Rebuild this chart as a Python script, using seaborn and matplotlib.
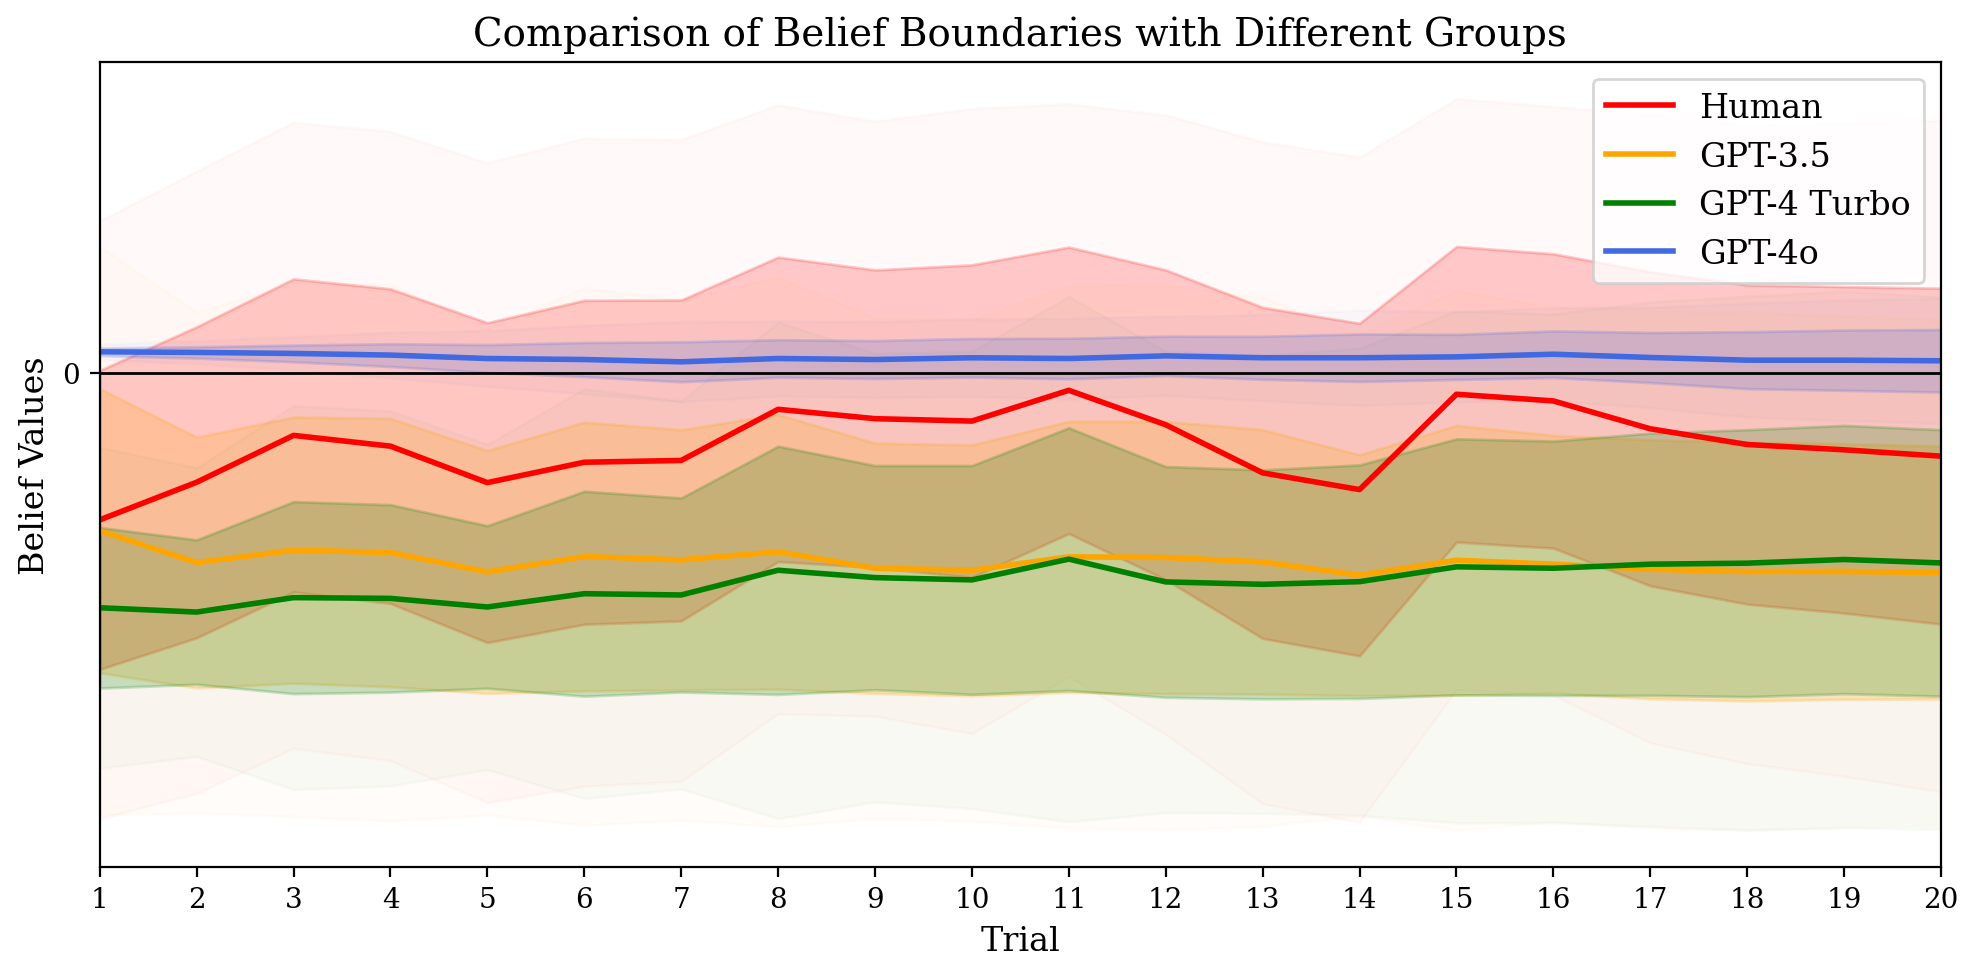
import numpy as np
import pandas as pd
import matplotlib
matplotlib.use("Agg")
import matplotlib.pyplot as plt
import seaborn as sns

trials = list(range(1, 21))
groups = ["Human", "GPT-3.5", "GPT-4 Turbo", "GPT-4o"]
colors = ["red", "orange", "green", "royalblue"]

human_mean = [-1.16, -0.863, -0.493, -0.578, -0.866, -0.705, -0.691, -0.287, -0.361, -0.38,
              -0.137, -0.409, -0.789, -0.921, -0.168, -0.221, -0.441, -0.565, -0.607, -0.657]
human_std = [1.18, 1.228, 1.236, 1.242, 1.263, 1.279, 1.267, 1.202, 1.175, 1.234,
             1.131, 1.223, 1.307, 1.313, 1.167, 1.162, 1.24, 1.26, 1.289, 1.326]

gpt35_mean = [-1.246, -1.497, -1.399, -1.418, -1.571, -1.449, -1.476, -1.412, -1.542, -1.558,
              -1.452, -1.457, -1.492, -1.597, -1.479, -1.51, -1.55, -1.568, -1.568, -1.576]
gpt35_std = [1.122, 0.99, 1.051, 1.06, 0.959, 1.061, 1.028, 1.085, 0.988, 0.991,
             1.07, 1.075, 1.044, 0.951, 1.065, 1.017, 1.022, 1.022, 1.009, 0.998]

gpt4t_mean = [-1.854, -1.888, -1.774, -1.78, -1.848, -1.743, -1.753, -1.558, -1.616, -1.634,
              -1.47, -1.65, -1.669, -1.648, -1.531, -1.542, -1.51, -1.502, -1.473, -1.50]
gpt4t_std = [0.634, 0.57, 0.758, 0.74, 0.642, 0.809, 0.766, 0.98, 0.885, 0.903,
             1.037, 0.911, 0.904, 0.922, 1.011, 1.004, 1.035, 1.054, 1.059, 1.052]

gpt4o_mean = [0.167, 0.162, 0.154, 0.141, 0.114, 0.106, 0.088, 0.114, 0.106, 0.12,
              0.114, 0.135, 0.12, 0.12, 0.127, 0.148, 0.122, 0.101, 0.101, 0.096]
gpt4o_std = [0.03, 0.045, 0.066, 0.09, 0.11, 0.135, 0.158, 0.148, 0.15, 0.153,
             0.16, 0.156, 0.17, 0.188, 0.178, 0.184, 0.198, 0.225, 0.238, 0.247]

means = [human_mean, gpt35_mean, gpt4t_mean, gpt4o_mean]
stds = [human_std, gpt35_std, gpt4t_std, gpt4o_std]

rows = []
for g, m, s in zip(groups, means, stds):
    for t, mv, sv in zip(trials, m, s):
        rows.append({"Trial": t, "Group": g, "Mean": mv, "Std": sv})
df = pd.DataFrame(rows)

plt.rcParams["font.family"] = ["DejaVu Serif"]

DPI = 200
fig = plt.figure(figsize=(1979 / DPI, 979 / DPI), dpi=DPI)
ax = fig.add_axes([0.0504, 0.1134, 0.9304, 0.8222])

for g, c in zip(groups, colors):
    d = df[df["Group"] == g]
    x = d["Trial"].to_numpy()
    m = d["Mean"].to_numpy()
    s = d["Std"].to_numpy()
    ax.fill_between(x, m - 2 * s, m + 2 * s, color=c, alpha=0.025)
    ax.fill_between(x, m - s, m + s, color=c, alpha=0.2)

sns.lineplot(data=df, x="Trial", y="Mean", hue="Group", palette=dict(zip(groups, colors)),
             hue_order=groups, linewidth=2, ax=ax, errorbar=None)

ax.axhline(0, color="black", linewidth=1)
ax.set_xlim(1, 20)
ax.set_xticks(trials)
ax.set_yticks([0])
ax.tick_params(axis="both", labelsize=10)
ax.set_title("Comparison of Belief Boundaries with Different Groups", fontsize=14)
ax.set_xlabel("Trial", fontsize=12)
ax.set_ylabel("Belief Values", fontsize=12)
ax.legend(loc="upper right", fontsize=12, title=None)

fig.savefig("out.png", dpi=DPI)
